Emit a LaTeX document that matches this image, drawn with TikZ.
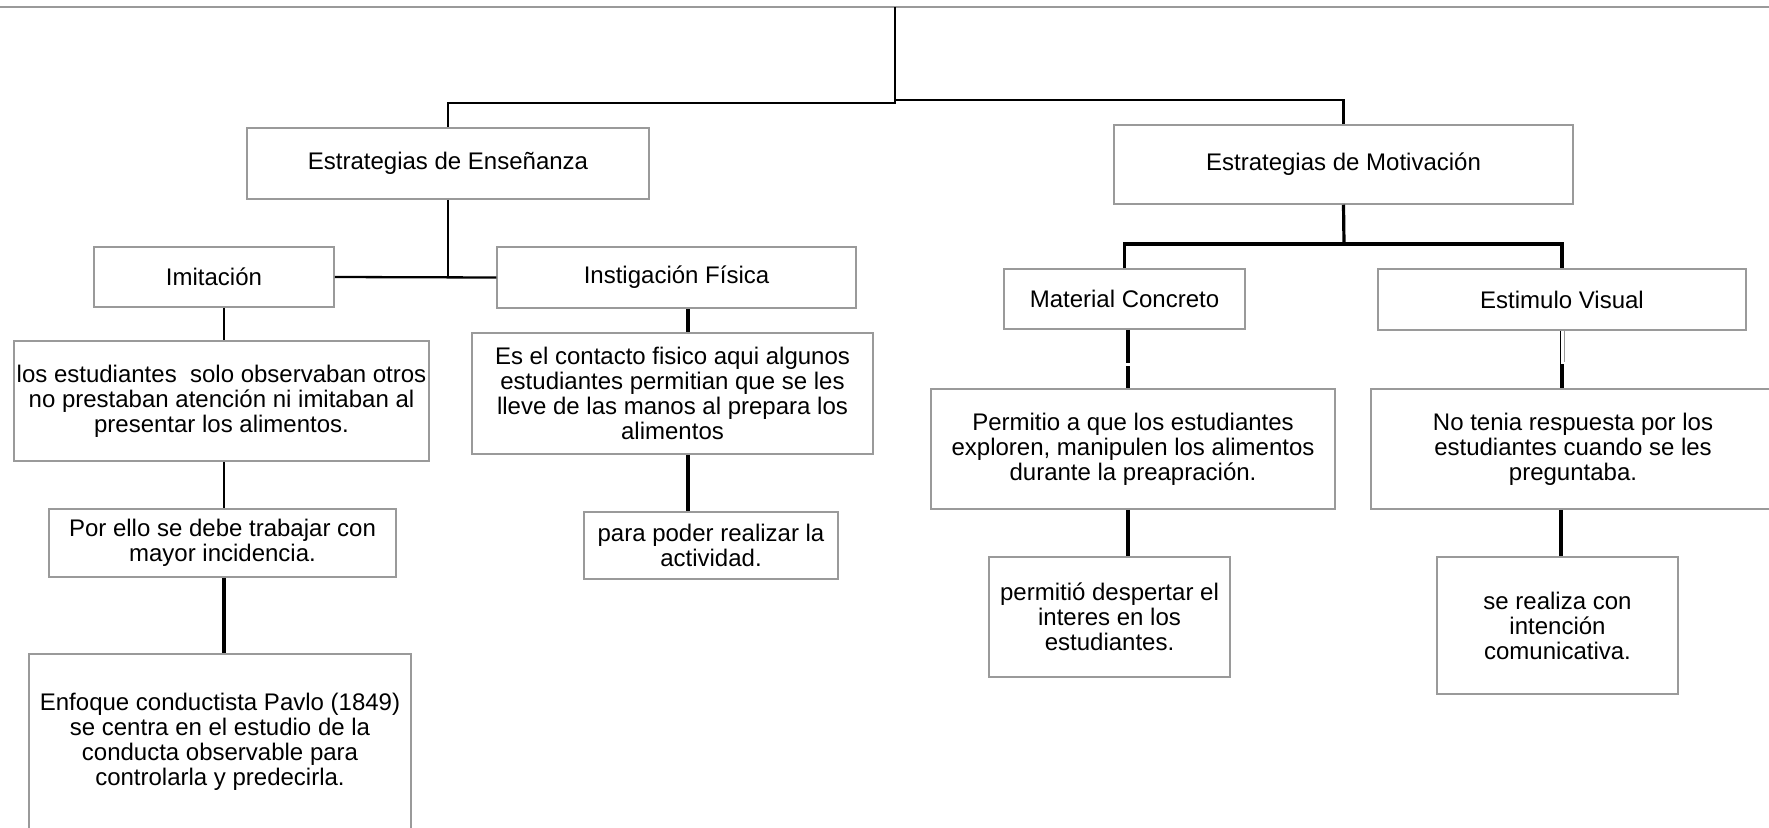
\documentclass[tikz,border=0pt]{standalone}
\usepackage{fontspec}
\setmainfont{Liberation Sans}
\definecolor{boxgray}{HTML}{9A9A9A}
\begin{document}
\begin{tikzpicture}[x=1pt,y=-1pt,
  box/.style={draw=boxgray, line width=1.5pt, align=center, inner sep=0pt, font=\fontsize{24}{25}\selectfont},
  conn/.style={line width=2.3pt, black},
  connb/.style={line width=3.2pt, black},
  thinl/.style={line width=1pt, black},
  thing/.style={line width=1pt, boxgray}]
\useasboundingbox (0,0) rectangle (1769,827);
% top line
\coordinate (topL) at (0,7);
\coordinate (topR) at (1769,7);
\draw[boxgray, line width=2pt] (topL) -- (topR);
% boxes
\node[box, minimum width=402pt, minimum height=71pt] (ens) at (448,163.5) {Estrategias de Enseñanza};
\node[box, minimum width=459pt, minimum height=79pt] (mot) at (1343.5,164.5) {Estrategias de Motivación};
\node[box, minimum width=240pt, minimum height=60pt] (imi) at (214,277) {Imitación};
\node[box, minimum width=359pt, minimum height=61pt] (ins) at (676.5,277.5) {Instigación Física};
\node[box, minimum width=241pt, minimum height=60pt] (mat) at (1124.5,299) {Material Concreto};
\node[box, minimum width=368pt, minimum height=61pt] (est) at (1562,299.5) {Estimulo Visual};
\node[box, minimum width=415pt, minimum height=120pt] (a1) at (221.5,401) {los estudiantes\ \ solo observaban otros\\no prestaban atención ni imitaban al\\presentar los alimentos.};
\node[box, minimum width=347pt, minimum height=68pt] (a2) at (222.5,543) {Por ello se debe trabajar con\\mayor incidencia.};
\node[box, minimum width=382pt, minimum height=176pt] (a3) at (220,742) {Enfoque conductista Pavlo (1849)\\se centra en el estudio de la\\conducta observable para\\controlarla y predecirla.};
\node[box, minimum width=401pt, minimum height=121pt] (b1) at (672.5,393.5) {Es el contacto fisico aqui algunos\\estudiantes permitian que se les\\lleve de las manos al prepara los\\alimentos};
\node[box, minimum width=254pt, minimum height=67pt] (b2) at (711,545.5) {para poder realizar la\\actividad.};
\node[box, minimum width=404pt, minimum height=120pt] (c1) at (1133,449) {Permitio a que los estudiantes\\exploren, manipulen los alimentos\\durante la preapración.};
\node[box, minimum width=241pt, minimum height=120pt] (c2) at (1109.5,617) {permitió despertar el\\interes en los\\estudiantes.};
\node[box, minimum width=404pt, minimum height=120pt] (d1) at (1573,449) {No tenia respuesta por los\\estudiantes cuando se les\\preguntaba.};
\node[box, minimum width=241pt, minimum height=137pt] (d2) at (1557.5,625.5) {se realiza con\\intención\\comunicativa.};
% connector coordinates
\coordinate (r) at (895,7);
\coordinate (j1) at (895,103);
\coordinate (j2) at (895,100);
\coordinate (j3) at (448,277);
\coordinate (j4) at (1344,244);
\coordinate (lx) at (224,0);
\coordinate (mx) at (688,0);
\coordinate (cx) at (1128,0);
\coordinate (g1) at (1128,363);
\coordinate (g2) at (1128,366);
\coordinate (e1) at (1560,364);
\coordinate (e2) at (1564,362);
\coordinate (e3) at (1562,364);
\coordinate (dx) at (1561,0);
% root
\draw[conn] (r) -- (j1) -| (ens.north);
\draw[conn] (j2) -| (mot.north);
% ensenanza branch
\draw[conn] (ens.south) -- (j3);
\draw[conn] (imi.east) -- (ins.west);
\draw[conn] (lx |- imi.south) -- (lx |- a1.north);
\draw[conn] (lx |- a1.south) -- (lx |- a2.north);
\draw[connb] (lx |- a2.south) -- (lx |- a3.north);
\draw[connb] (mx |- ins.south) -- (mx |- b1.north);
\draw[connb] (mx |- b1.south) -- (mx |- b2.north);
% motivacion branch
\draw[connb] (mot.south) -- (j4);
\draw[connb] (mat.north) |- (j4) -| (est.north);
\draw[connb] (cx |- mat.south) -- (g1);
\draw[connb] (g2) -- (cx |- c1.north);
\draw[connb] (cx |- c1.south) -- (cx |- c2.north);
\draw[thinl] (e1 |- est.south) -- (e1);
\draw[thing] (e2 |- est.south) -- (e2);
\draw[line width=4pt] (e3) -- (e3 |- d1.north);
\draw[connb] (dx |- d1.south) -- (dx |- d2.north);
\end{tikzpicture}
\end{document}
